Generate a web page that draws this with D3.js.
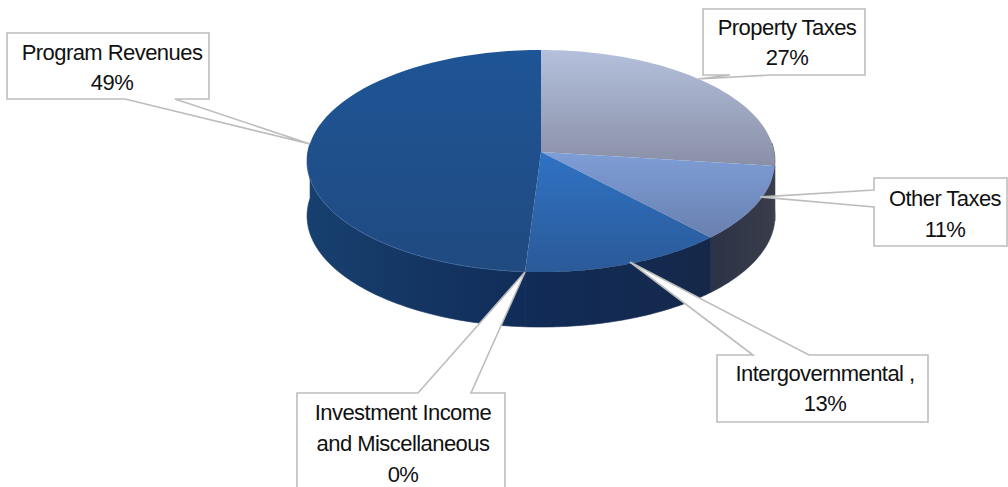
<!DOCTYPE html>
<html>
<head>
<meta charset="utf-8">
<script src="https://cdn.jsdelivr.net/npm/d3@7"></script>
<style>
  html, body { margin: 0; background: #fff; }
  svg { display: block; }
  text { font-family: "Liberation Sans", Arial, sans-serif; font-size: 22px; fill: #111; letter-spacing: -0.55px; }
</style>
</head>
<body>
<svg id="chart" width="1008" height="487"></svg>
<script>
// Revenue sources, percent of total
const categories = ["Property Taxes", "Other Taxes", "Intergovernmental", "Investment Income and Miscellaneous", "Program Revenues"];
const shares = [27, 11, 13, 0, 49];

// Face colours per slice: top of gradient, bottom of gradient
const topColors = [["#b4c0dc", "#898fa6"], ["#7e9ed6", "#6a80b0"], ["#2f72c4", "#2b5a98"], ["#2a5a98", "#2a5a98"], ["#1e5596", "#204a80"]];
// Wall colours per slice: left, right
const wallColors = [["#2f3544", "#2f3544"], ["#2b3346", "#3a3d4a"], ["#112c58", "#15284a"], ["#112c58", "#112c58"], ["#17406f", "#112c58"]];

// Callout boxes: outline rectangle, pointer base and tip, text lines
const callouts = [
  { rect: [703, 9, 865, 75], edge: "bottom", base: [730, 770], tip: [698, 79], lines: ["Property Taxes", "27%"], cx: 787, y: [35, 65] },
  { rect: [874, 178, 1007, 246], edge: "left", base: [190, 207], tip: [760, 197], lines: ["Other Taxes", "11%"], cx: 945, y: [206, 237] },
  { rect: [717, 355, 928, 422], edge: "top", base: [753, 809], tip: [630, 262], lines: ["Intergovernmental ,", "13%"], cx: 825, y: [381, 411] },
  { rect: [297, 393, 505, 500], edge: "top", base: [418, 471], tip: [525, 272], lines: ["Investment Income", "and Miscellaneous", "0%"], cx: 403, y: [420, 451, 482] },
  { rect: [7, 33, 209, 99], edge: "bottom", base: [125, 175], tip: [310, 144], lines: ["Program Revenues", "49%"], cx: 112, y: [60, 90] }
];

const svg = d3.select("#chart");
const defs = svg.append("defs");

// Perspective disc: the far rim reads smaller than the near rim
const apex = { x: 541, y: 152 };
const radiusX = 233.2, radiusY = 110.3, tilt = 0.0811, depth = 55;
const project = a => {
  const w = 1 + tilt * Math.cos(a);
  return [apex.x + radiusX * Math.sin(a) / w, apex.y - radiusY * Math.cos(a) / w];
};

const pie = d3.pie().sort(null).value(d => d);
const arcs = pie(shares);
const rim = (a0, a1) => d3.range(0, 61).map(i => project(a0 + (a1 - a0) * i / 60));
const line = d3.line();

const faceGrad = (id, c) => {
  const g = defs.append("linearGradient").attr("id", id).attr("x1", 0).attr("y1", 0).attr("x2", 0).attr("y2", 1);
  g.append("stop").attr("offset", 0).attr("stop-color", c[0]);
  g.append("stop").attr("offset", 1).attr("stop-color", c[1]);
};
const wallGrad = (id, c) => {
  const g = defs.append("linearGradient").attr("id", id).attr("x1", 0).attr("y1", 0).attr("x2", 1).attr("y2", 0);
  g.append("stop").attr("offset", 0).attr("stop-color", c[0]);
  g.append("stop").attr("offset", 1).attr("stop-color", c[1]);
};
arcs.forEach((d, i) => { faceGrad("face" + i, topColors[i]); wallGrad("wall" + i, wallColors[i]); });

// Side wall: only the near half of the rim is visible
const walls = svg.append("g");
arcs.forEach((d, i) => {
  const a0 = Math.max(d.startAngle, Math.PI / 2 - 0.08);
  const a1 = Math.min(d.endAngle, 3 * Math.PI / 2 + 0.08);
  if (a1 <= a0) return;
  const upper = rim(a0, a1);
  const lower = upper.map(p => [p[0], p[1] + depth]).reverse();
  walls.append("path")
    .attr("d", line(upper.concat(lower)) + "Z")
    .attr("fill", `url(#wall${i})`)
    .attr("stroke", `url(#wall${i})`)
    .attr("stroke-width", 0.6);
});

// Top faces
const faces = svg.append("g");
arcs.forEach((d, i) => {
  if (d.endAngle === d.startAngle) return;
  faces.append("path")
    .attr("d", line([[apex.x, apex.y]].concat(rim(d.startAngle, d.endAngle))) + "Z")
    .attr("fill", `url(#face${i})`);
});

// Thin bright bevel where the face meets the wall
faces.append("path")
  .attr("d", line(rim(Math.PI + 0.08, 3 * Math.PI / 2 - 0.1)))
  .attr("fill", "none")
  .attr("stroke", "#4f7cb4")
  .attr("stroke-opacity", 0.5)
  .attr("stroke-width", 1);

// Callouts with pointers
const labels = svg.append("g");
callouts.forEach(c => {
  const [x0, y0, x1, y1] = c.rect;
  let pts;
  if (c.edge === "bottom") pts = [[x0, y0], [x1, y0], [x1, y1], [c.base[1], y1], c.tip, [c.base[0], y1], [x0, y1]];
  if (c.edge === "top") pts = [[x0, y0], [c.base[0], y0], c.tip, [c.base[1], y0], [x1, y0], [x1, y1], [x0, y1]];
  if (c.edge === "left") pts = [[x0, y0], [x1, y0], [x1, y1], [x0, y1], [x0, c.base[1]], c.tip, [x0, c.base[0]]];
  labels.append("path")
    .attr("d", line(pts) + "Z")
    .attr("fill", "#fff")
    .attr("stroke", "#bdbdbd")
    .attr("stroke-width", 1.6);
  c.lines.forEach((t, j) => {
    labels.append("text")
      .attr("x", c.cx)
      .attr("y", c.y[j])
      .attr("text-anchor", "middle")
      .text(t);
  });
});
</script>
</body>
</html>
